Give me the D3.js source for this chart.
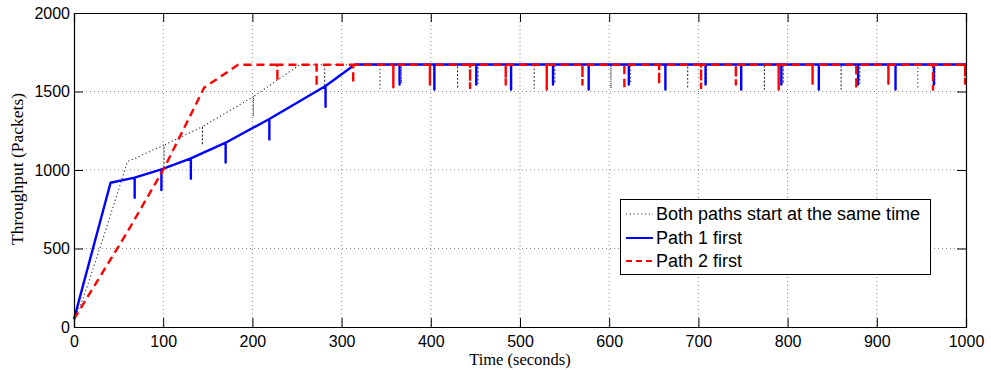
<!DOCTYPE html>
<html>
<head>
<meta charset="utf-8">
<script src="https://cdn.jsdelivr.net/npm/d3@7"></script>
<style>
  body { margin: 0; background: #fff; }
  svg text { fill: #000; }
</style>
</head>
<body>
<div id="chart"></div>
<script>
// tick values
const timeTicks = [0, 100, 200, 300, 400, 500, 600, 700, 800, 900, 1000];
const throughputTicks = [0, 500, 1000, 1500, 2000];

// each series: corner points of the main curve, then the short drops [time, lowest value]
const bothLine = [[0, 50], [11, 193], [35, 607], [60, 1053], [101, 1159], [144, 1276], [201, 1467], [253, 1670], [1000, 1670]];
const bothDips = [[101, 1021], [144, 1159], [201, 1340], [281, 1520], [343, 1520], [367, 1552], [430, 1520], [453, 1552],
    [516, 1520], [539, 1552], [602, 1520], [624, 1552], [688, 1520], [709, 1552], [774, 1515], [795, 1552],
    [860, 1515], [881, 1552], [946, 1518], [965, 1552]];

const path1Line = [[0, 50], [41, 919], [68, 951], [98, 1004], [131, 1074], [170, 1174], [219, 1325], [282, 1535], [315, 1672], [1000, 1672]];
const path1Dips = [[68, 824], [98, 872], [131, 945], [170, 1047], [219, 1195], [282, 1403], [365, 1545], [404, 1513],
    [451, 1545], [490, 1513], [537, 1545], [577, 1513], [622, 1545], [663, 1513], [708, 1545], [748, 1513],
    [793, 1545], [835, 1513], [879, 1545], [921, 1513], [964, 1545]];

const path2Line = [[0, 50], [60, 607], [101, 1011], [127, 1308], [146, 1525], [184, 1670], [1000, 1670]];
const path2Dips = [[228, 1565], [272, 1531], [313, 1552], [358, 1527], [399, 1545], [444, 1522], [484, 1545],
    [530, 1513], [570, 1545], [617, 1513], [656, 1545], [703, 1522], [742, 1545], [790, 1513], [828, 1550],
    [877, 1513], [913, 1550], [963, 1513], [999, 1550]];

const legendLabels = ["Both paths start at the same time", "Path 1 first", "Path 2 first"];

const W = 991, H = 370;
const margin = { top: 13, right: 25, bottom: 43, left: 74 };
const width = W - margin.left - margin.right,
    height = H - margin.top - margin.bottom;

const svg = d3.select("#chart").append("svg")
    .attr("width", W)
    .attr("height", H);

const g = svg.append("g")
    .attr("transform", `translate(${margin.left},${margin.top})`);

const x = d3.scaleLinear().domain([0, 1000]).range([0, width]);
const y = d3.scaleLinear().domain([0, 2000]).range([height, 0]);

// grid
g.append("g").selectAll("line")
    .data(timeTicks.slice(1, -1))
    .enter().append("line")
    .attr("x1", d => x(d)).attr("x2", d => x(d))
    .attr("y1", 0).attr("y2", height)
    .attr("stroke", "#888").attr("stroke-width", 1)
    .attr("stroke-dasharray", "1,3");

g.append("g").selectAll("line")
    .data(throughputTicks.slice(1, -1))
    .enter().append("line")
    .attr("y1", d => y(d)).attr("y2", d => y(d))
    .attr("x1", 0).attr("x2", width)
    .attr("stroke", "#888").attr("stroke-width", 1)
    .attr("stroke-dasharray", "1,3");

// join a curve with its drops: at each drop time the line goes down and back up
function withDips(line, dips) {
    const top = d3.scaleLinear().domain(line.map(d => d[0])).range(line.map(d => d[1]));
    const pts = line.map(d => ({ t: d[0], v: d[1], k: 0 }));
    dips.forEach(d => {
        const v0 = top(d[0]);
        pts.push({ t: d[0], v: v0, k: 1 }, { t: d[0], v: d[1], k: 2 }, { t: d[0], v: v0, k: 3 });
    });
    pts.sort((a, b) => a.t - b.t || a.k - b.k);
    return pts;
}

const lineGen = d3.line().x(d => x(d.t)).y(d => y(d.v));

const series = [
    { pts: withDips(bothLine, bothDips), color: "#333", w: 1.1, dash: "1.2,2.6" },
    { pts: withDips(path1Line, path1Dips), color: "#0000ff", w: 2.4, dash: null },
    { pts: withDips(path2Line, path2Dips), color: "#ff0000", w: 2.4, dash: "8,5" }
];

series.forEach(s => {
    g.append("path")
        .datum(s.pts)
        .attr("d", lineGen)
        .attr("fill", "none")
        .attr("stroke", s.color)
        .attr("stroke-width", s.w)
        .attr("stroke-dasharray", s.dash)
        .attr("stroke-linejoin", "round");
});

// axes, ticks pointing inwards on all sides
const tickFont = "'Liberation Sans', Arial, Helvetica, sans-serif";

const xAxis = g.append("g")
    .attr("transform", `translate(0,${height})`)
    .call(d3.axisBottom(x).tickValues(timeTicks).tickSize(-9).tickPadding(9).tickFormat(d3.format("d")));
const yAxis = g.append("g")
    .call(d3.axisLeft(y).tickValues(throughputTicks).tickSize(-9).tickPadding(4).tickFormat(d3.format("d")));
g.append("g")
    .call(d3.axisTop(x).tickValues(timeTicks).tickSize(-9).tickFormat(""));
g.append("g")
    .attr("transform", `translate(${width},0)`)
    .call(d3.axisRight(y).tickValues(throughputTicks).tickSize(-9).tickFormat(""));

g.selectAll(".domain").attr("stroke", "#000").attr("stroke-width", 1.2);
g.selectAll(".tick line").attr("stroke", "#000").attr("stroke-width", 1);
[xAxis, yAxis].forEach(a => a.selectAll("text")
    .style("font-family", tickFont)
    .style("font-size", "16px")
    .attr("fill", "#000"));

// axis titles
svg.append("text")
    .attr("x", margin.left + width / 2)
    .attr("y", 365)
    .attr("text-anchor", "middle")
    .style("font-family", "'Liberation Serif', 'Times New Roman', serif")
    .style("font-size", "16.5px")
    .text("Time (seconds)");

svg.append("text")
    .attr("transform", "translate(23,169) rotate(-90)")
    .attr("text-anchor", "middle")
    .style("font-family", "'Liberation Serif', 'Times New Roman', serif")
    .style("font-size", "17.5px")
    .text("Throughput (Packets)");

// legend
const legend = svg.append("g");
legend.append("rect")
    .attr("x", 620.5).attr("y", 199.5)
    .attr("width", 310).attr("height", 75)
    .attr("fill", "#fff").attr("stroke", "#000").attr("stroke-width", 1);

const legendY = [214, 238, 261];
legendLabels.forEach((label, i) => {
    const s = series[i];
    legend.append("line")
        .attr("x1", 626).attr("x2", 653)
        .attr("y1", legendY[i]).attr("y2", legendY[i])
        .attr("stroke", s.color)
        .attr("stroke-width", i === 0 ? 1.1 : 2)
        .attr("stroke-dasharray", i === 0 ? "1.2,2.6" : (i === 2 ? "6,4" : null));
    legend.append("text")
        .attr("x", 656).attr("y", legendY[i])
        .attr("dy", "0.35em")
        .style("font-family", tickFont)
        .style("font-size", "18px")
        .text(label);
});
</script>
</body>
</html>
